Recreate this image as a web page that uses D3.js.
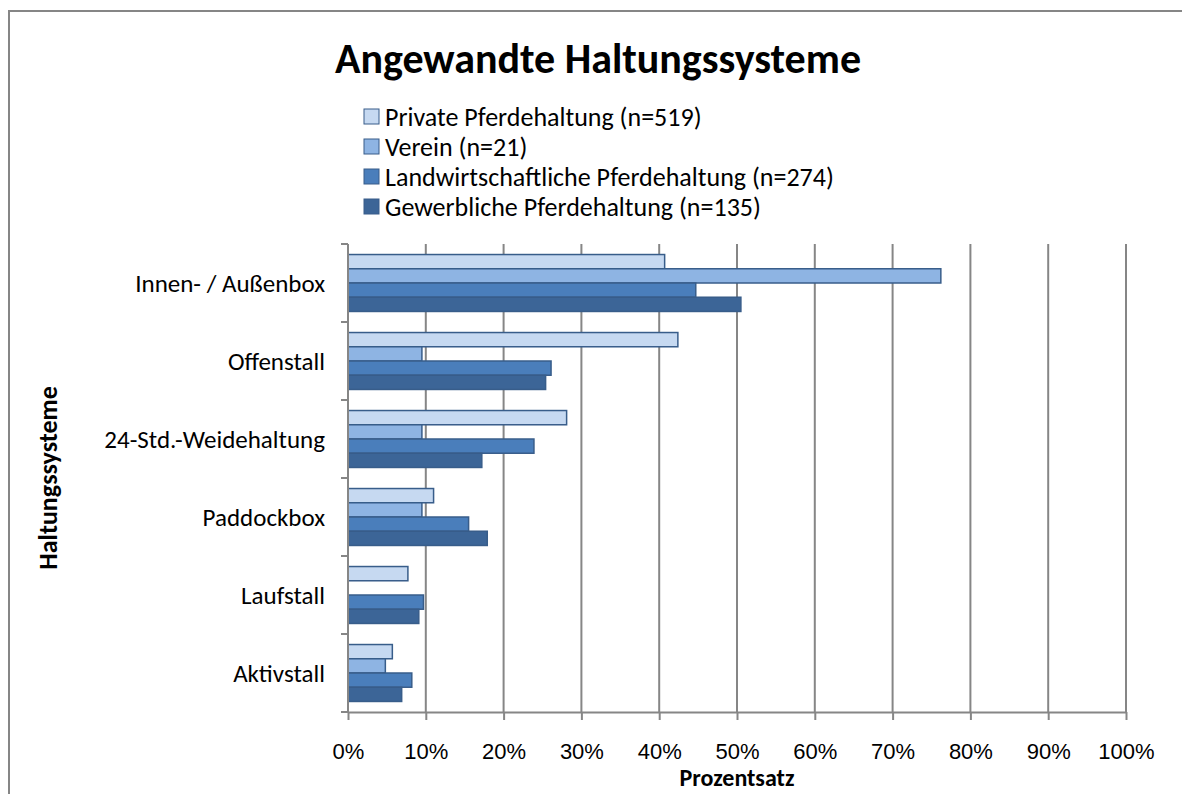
<!DOCTYPE html>
<html>
<head>
    <meta charset="utf-8">
    <title>Angewandte Haltungssysteme</title>
    <script src="https://d3js.org/d3.v7.min.js"></script>
    <style>
        body {
            margin: 0;
            background: #fff;
            font-family: Carlito, Lato, "Open Sans", sans-serif;
        }
        .grid line { stroke: #868686; stroke-width: 2px; }
        .axis path, .axis line { stroke: #868686; stroke-width: 2px; }
        .axis text { fill: #000; }
        .bar { stroke: #385D8A; stroke-width: 1.5px; }
    </style>
</head>
<body>
    <div id="chart"></div>
    <script>
        // Values (percent)
        const categories = ['Innen- / Außenbox', 'Offenstall', '24-Std.-Weidehaltung', 'Paddockbox', 'Laufstall', 'Aktivstall'];
        const seriesNames = [
            'Private Pferdehaltung (n=519)',
            'Verein (n=21)',
            'Landwirtschaftliche Pferdehaltung (n=274)',
            'Gewerbliche Pferdehaltung (n=135)'
        ];
        const privat = [40.7, 42.4, 28.1, 11.0, 7.7, 5.7];
        const verein = [76.2, 9.5, 9.5, 9.5, 0, 4.8];
        const landw = [44.7, 26.1, 23.9, 15.5, 9.7, 8.2];
        const gewerbl = [50.5, 25.4, 17.2, 17.9, 9.1, 6.9];
        const xTicks = [0, 10, 20, 30, 40, 50, 60, 70, 80, 90, 100];
        const colors = ['#C6D9F1', '#8EB4E3', '#4A7EBB', '#3C6597'];

        const series = [privat, verein, landw, gewerbl];
        const width = 1182, height = 794;
        const margin = { left: 348, right: 56, top: 244, bottom: 82 };

        const svg = d3.select('#chart').append('svg')
            .attr('width', width)
            .attr('height', height);

        // chart frame
        svg.append('rect')
            .attr('x', 9).attr('y', 11)
            .attr('width', width + 20).attr('height', height + 20)
            .attr('fill', 'none')
            .attr('stroke', '#868686')
            .attr('stroke-width', 2);

        const x = d3.scaleLinear()
            .domain([0, 100])
            .range([margin.left, width - margin.right]);

        const y = d3.scaleBand()
            .domain(categories)
            .range([margin.top, height - margin.bottom])
            .paddingInner(0.27)
            .paddingOuter(0.135);

        const ySub = d3.scaleBand()
            .domain(d3.range(series.length))
            .range([0, y.bandwidth()]);

        // grid
        svg.append('g').attr('class', 'grid')
            .selectAll('line')
            .data(xTicks.slice(1))
            .join('line')
            .attr('x1', d => x(d)).attr('x2', d => x(d))
            .attr('y1', margin.top).attr('y2', height - margin.bottom);

        // bars
        series.forEach((vals, si) => {
            svg.append('g')
                .selectAll('rect')
                .data(vals.map((v, i) => ({ cat: categories[i], v })).filter(d => d.v > 0))
                .join('rect')
                .attr('class', 'bar')
                .attr('x', x(0))
                .attr('y', d => y(d.cat) + ySub(si))
                .attr('width', d => x(d.v) - x(0))
                .attr('height', ySub.bandwidth())
                .attr('fill', colors[si]);
        });

        // x axis
        const xAxis = svg.append('g').attr('class', 'axis')
            .attr('transform', `translate(0,${height - margin.bottom})`)
            .call(d3.axisBottom(x).tickValues(xTicks).tickFormat(d => d + '%').tickSize(8).tickSizeOuter(0).tickPadding(23));
        xAxis.selectAll('text').style('font-size', '22px');

        // y axis: ticks at category boundaries
        const yEdge = d3.scaleLinear()
            .domain([0, categories.length])
            .range([margin.top, height - margin.bottom]);
        const yAxisG = svg.append('g').attr('class', 'axis');
        yAxisG.append('line')
            .attr('x1', x(0)).attr('x2', x(0))
            .attr('y1', margin.top).attr('y2', height - margin.bottom);
        yAxisG.selectAll('line.tick')
            .data(d3.range(categories.length + 1))
            .join('line')
            .attr('class', 'tick')
            .attr('x1', x(0) - 7).attr('x2', x(0))
            .attr('y1', d => yEdge(d)).attr('y2', d => yEdge(d));
        yAxisG.selectAll('text')
            .data(categories)
            .join('text')
            .attr('x', x(0) - 23)
            .attr('y', (d, i) => (yEdge(i) + yEdge(i + 1)) / 2)
            .attr('dy', '0.35em')
            .attr('text-anchor', 'end')
            .style('font-size', '25px')
            .text(d => d);

        // titles
        svg.append('text')
            .attr('x', 598).attr('y', 73)
            .attr('text-anchor', 'middle')
            .style('font-size', '42px')
            .style('font-weight', 'bold')
            .text('Angewandte Haltungssysteme');

        svg.append('text')
            .attr('x', x(50)).attr('y', 786)
            .attr('text-anchor', 'middle')
            .style('font-size', '24px')
            .style('font-weight', 'bold')
            .text('Prozentsatz');

        svg.append('text')
            .attr('transform', `translate(57,${(margin.top + height - margin.bottom) / 2}) rotate(-90)`)
            .attr('text-anchor', 'middle')
            .style('font-size', '26px')
            .style('font-weight', 'bold')
            .text('Haltungssysteme');

        // legend
        const legend = svg.append('g').attr('transform', 'translate(364,109)');
        const item = legend.selectAll('g')
            .data(seriesNames)
            .join('g')
            .attr('transform', (d, i) => `translate(0,${i * 30})`);
        item.append('rect')
            .attr('width', 15).attr('height', 15)
            .attr('fill', (d, i) => colors[i])
            .attr('stroke', '#385D8A')
            .attr('stroke-width', 1);
        item.append('text')
            .attr('x', 21).attr('y', 8)
            .attr('dy', '0.35em')
            .style('font-size', '26px')
            .text(d => d);
    </script>
</body>
</html>
